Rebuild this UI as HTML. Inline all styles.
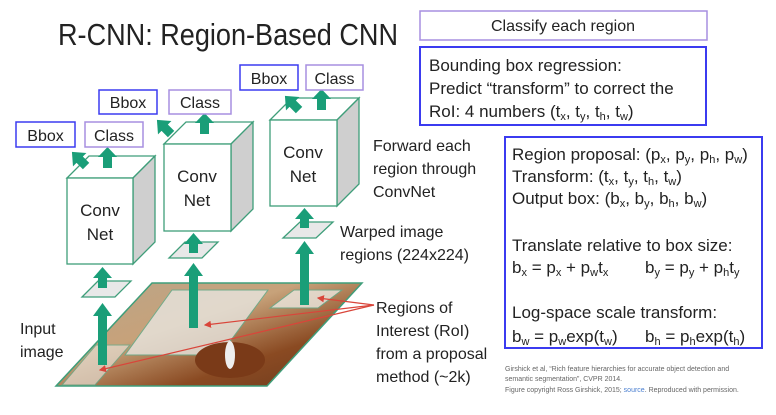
<!DOCTYPE html>
<html><head><meta charset="utf-8"><style>
html,body{margin:0;padding:0;background:#fff;}
svg{display:block;font-family:"Liberation Sans",sans-serif;}
</style></head><body>
<svg width="776" height="415" viewBox="0 0 776 415" xmlns="http://www.w3.org/2000/svg">
<defs>
<linearGradient id="img" x1="0" y1="0" x2="1" y2="1">
<stop offset="0" stop-color="#b9a58a"/><stop offset="0.4" stop-color="#c7a27a"/><stop offset="0.7" stop-color="#8a4a22"/><stop offset="1" stop-color="#6b3a1e"/>
</linearGradient>
<marker id="ra" markerWidth="6" markerHeight="6" refX="5" refY="3" orient="auto"><path d="M0,0 L6,3 L0,6 z" fill="#d9453a"/></marker>
<g id="up"><rect x="-4.5" y="0" width="9" height="10"/><polygon points="-9.5,1 9.5,1 0,-10"/></g>
</defs>
<text x="58" y="45" font-size="31" fill="#222" textLength="340" lengthAdjust="spacingAndGlyphs">R-CNN: Region-Based CNN</text>

<polygon points="56,386 267,386 362,283 152,283" fill="url(#img)" stroke="#3f9e7a" stroke-width="1.5"/>
<polygon points="125,355 220,355 268,290 172,290" fill="#e8e6e0" opacity="0.8" stroke="#5fae8e"/>
<polygon points="270,308 318,308 342,290 294,290" fill="#ece8e0" opacity="0.8" stroke="#5fae8e"/>
<polygon points="62,385 95,385 130,345 96,345" fill="#e6ded2" opacity="0.7" stroke="#5fae8e"/>
<ellipse cx="230" cy="360" rx="35" ry="18" fill="#7a3a18"/>
<ellipse cx="230" cy="355" rx="5" ry="14" fill="#eee"/>

<g stroke="#d9453a" stroke-width="1.2" fill="none">
<line x1="374" y1="305" x2="318" y2="298" marker-end="url(#ra)"/>
<line x1="374" y1="305" x2="205" y2="325" marker-end="url(#ra)"/>
<line x1="374" y1="305" x2="100" y2="370" marker-end="url(#ra)"/>
</g>

<g stroke="#3f9e7a" stroke-width="1.3">
<polygon points="67,178 89,156 155,156 133,178" fill="#fff"/>
<polygon points="133,178 155,156 155,242 133,264" fill="#cfcfcf"/>
<rect x="67" y="178" width="66" height="86" fill="#fff"/>
<polygon points="164,144 186,122 253,122 231,144" fill="#fff"/>
<polygon points="231,144 253,122 253,209 231,231" fill="#cfcfcf"/>
<rect x="164" y="144" width="67" height="87" fill="#fff"/>
<polygon points="270,120 292,98 359,98 337,120" fill="#fff"/>
<polygon points="337,120 359,98 359,184 337,206" fill="#cfcfcf"/>
<rect x="270" y="120" width="67" height="86" fill="#fff"/>
<polygon points="82,297 115,297 131,281 98,281" fill="#e8e8e8"/>
<polygon points="169,258 202,258 218,242 185,242" fill="#e8e8e8"/>
<polygon points="283,238 316,238 333,222 300,222" fill="#e8e8e8"/>
</g>
<g font-size="17" fill="#222" text-anchor="middle">
<text x="100" y="216">Conv</text><text x="100" y="240">Net</text>
<text x="197" y="182">Conv</text><text x="197" y="206">Net</text>
<text x="303" y="158">Conv</text><text x="303" y="182">Net</text>
</g>

<g fill="#1a9e78">
<rect x="98" y="315" width="9" height="50"/><polygon points="93,316 112,316 102.5,303"/>
<rect x="189" y="275" width="9" height="53"/><polygon points="184,276 203,276 193.5,263"/>
<rect x="300" y="253" width="9" height="52"/><polygon points="295,254 314,254 304.5,241"/>
<rect x="98" y="277" width="9" height="11"/><polygon points="93,278 112,278 102.5,267"/>
<rect x="189" y="243" width="9" height="10"/><polygon points="184,244 203,244 193.5,233"/>
<rect x="300" y="218" width="9" height="10"/><polygon points="295,219 314,219 304.5,208"/>
<rect x="103" y="156" width="9" height="12"/><polygon points="98,157 117,157 107.5,147"/>
<rect x="200" y="122" width="9" height="12"/><polygon points="195,123 214,123 204.5,113"/>
<rect x="317" y="98" width="9" height="12"/><polygon points="312,99 331,99 321.5,89"/>
<use href="#up" transform="translate(79,159) rotate(-45)"/>
<use href="#up" transform="translate(164,127) rotate(-45)"/>
<use href="#up" transform="translate(292,103) rotate(-45)"/>
</g>

<g fill="#fff" stroke-width="1.5">
<rect x="16" y="122" width="59" height="25" stroke="#3b3bf0"/>
<rect x="85" y="122" width="58" height="25" stroke="#a78fe0"/>
<rect x="99" y="90" width="58" height="24" stroke="#3b3bf0"/>
<rect x="169" y="90" width="62" height="24" stroke="#a78fe0"/>
<rect x="240" y="65" width="58" height="25" stroke="#3b3bf0"/>
<rect x="306" y="65" width="57" height="25" stroke="#a78fe0"/>
</g>
<g font-size="16" fill="#222" text-anchor="middle">
<text x="45.5" y="141">Bbox</text><text x="114" y="141">Class</text>
<text x="128" y="108">Bbox</text><text x="200" y="108">Class</text>
<text x="269" y="84">Bbox</text><text x="334.5" y="84">Class</text>
</g>

<g font-size="16" fill="#222">
<text x="373" y="151">Forward each</text>
<text x="373" y="174">region through</text>
<text x="373" y="197">ConvNet</text>
<text x="340" y="237">Warped image</text>
<text x="340" y="260">regions (224x224)</text>
<text x="376" y="313">Regions of</text>
<text x="376" y="336">Interest (RoI)</text>
<text x="376" y="359">from a proposal</text>
<text x="376" y="382">method (~2k)</text>
<text x="20" y="334">Input</text>
<text x="20" y="357">image</text>
</g>

<rect x="420" y="11" width="287" height="29" fill="#fff" stroke="#a78fe0" stroke-width="1.5"/>
<text x="563" y="31" font-size="16" fill="#222" text-anchor="middle">Classify each region</text>
<rect x="420" y="47" width="286" height="78" fill="#fff" stroke="#3b3bf0" stroke-width="2"/>
<g font-size="17" fill="#222">
<text x="429" y="71">Bounding box regression:</text>
<text x="429" y="94">Predict “transform” to correct the</text>
<text x="429" y="117">RoI: 4 numbers (t<tspan font-size="11" dy="3">x</tspan><tspan dy="-3">, t</tspan><tspan font-size="11" dy="3">y</tspan><tspan dy="-3">, t</tspan><tspan font-size="11" dy="3">h</tspan><tspan dy="-3">, t</tspan><tspan font-size="11" dy="3">w</tspan><tspan dy="-3">)</tspan></text>
</g>
<rect x="505" y="137" width="257" height="211" fill="#fff" stroke="#3b3bf0" stroke-width="2"/>
<g font-size="17" fill="#222">
<text x="512" y="160">Region proposal: (p<tspan font-size="11" dy="3">x</tspan><tspan dy="-3">, p</tspan><tspan font-size="11" dy="3">y</tspan><tspan dy="-3">, p</tspan><tspan font-size="11" dy="3">h</tspan><tspan dy="-3">, p</tspan><tspan font-size="11" dy="3">w</tspan><tspan dy="-3">)</tspan></text>
<text x="512" y="182">Transform: (t<tspan font-size="11" dy="3">x</tspan><tspan dy="-3">, t</tspan><tspan font-size="11" dy="3">y</tspan><tspan dy="-3">, t</tspan><tspan font-size="11" dy="3">h</tspan><tspan dy="-3">, t</tspan><tspan font-size="11" dy="3">w</tspan><tspan dy="-3">)</tspan></text>
<text x="512" y="204">Output box: (b<tspan font-size="11" dy="3">x</tspan><tspan dy="-3">, b</tspan><tspan font-size="11" dy="3">y</tspan><tspan dy="-3">, b</tspan><tspan font-size="11" dy="3">h</tspan><tspan dy="-3">, b</tspan><tspan font-size="11" dy="3">w</tspan><tspan dy="-3">)</tspan></text>
<text x="512" y="251">Translate relative to box size:</text>
<text x="512" y="273">b<tspan font-size="11" dy="3">x</tspan><tspan dy="-3"> = p</tspan><tspan font-size="11" dy="3">x</tspan><tspan dy="-3"> + p</tspan><tspan font-size="11" dy="3">w</tspan><tspan dy="-3">t</tspan><tspan font-size="11" dy="3">x</tspan></text>
<text x="645" y="273">b<tspan font-size="11" dy="3">y</tspan><tspan dy="-3"> = p</tspan><tspan font-size="11" dy="3">y</tspan><tspan dy="-3"> + p</tspan><tspan font-size="11" dy="3">h</tspan><tspan dy="-3">t</tspan><tspan font-size="11" dy="3">y</tspan></text>
<text x="512" y="318">Log-space scale transform:</text>
<text x="512" y="342">b<tspan font-size="11" dy="3">w</tspan><tspan dy="-3"> = p</tspan><tspan font-size="11" dy="3">w</tspan><tspan dy="-3">exp(t</tspan><tspan font-size="11" dy="3">w</tspan><tspan dy="-3">)</tspan></text>
<text x="645" y="342">b<tspan font-size="11" dy="3">h</tspan><tspan dy="-3"> = p</tspan><tspan font-size="11" dy="3">h</tspan><tspan dy="-3">exp(t</tspan><tspan font-size="11" dy="3">h</tspan><tspan dy="-3">)</tspan></text>
</g>
<g font-size="7" fill="#666">
<text x="505" y="371">Girshick et al, “Rich feature hierarchies for accurate object detection and</text>
<text x="505" y="381">semantic segmentation”, CVPR 2014.</text>
<text x="505" y="392">Figure copyright Ross Girshick, 2015; <tspan fill="#4a7fd0">source</tspan>. Reproduced with permission.</text>
</g>
</svg>
</body></html>
